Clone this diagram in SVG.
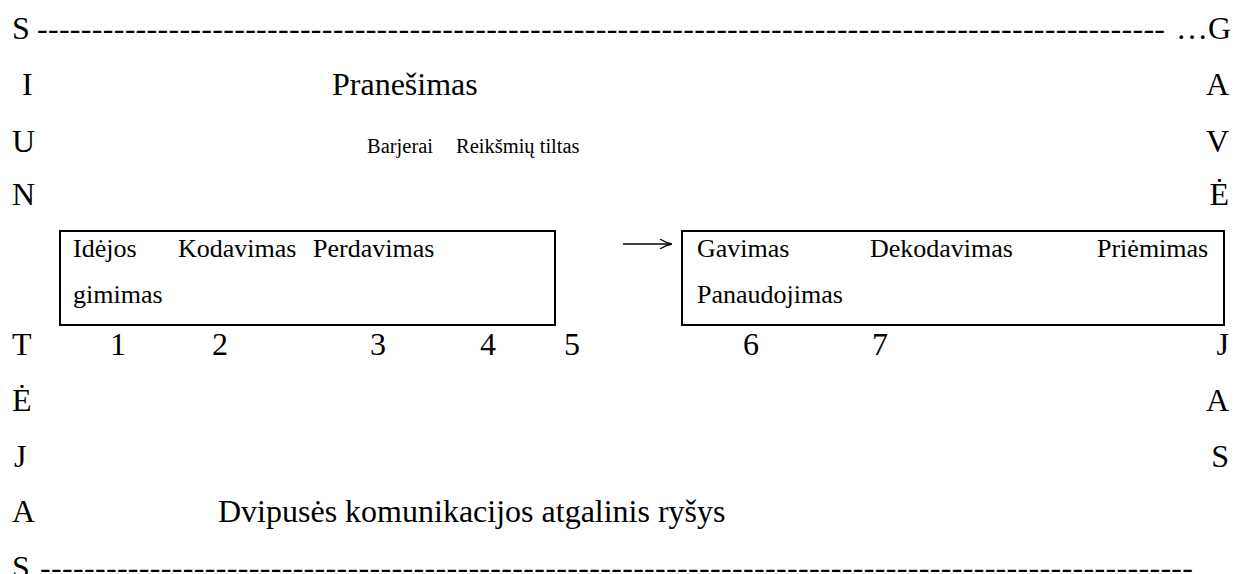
<svg xmlns="http://www.w3.org/2000/svg" width="1234" height="574" viewBox="0 0 1234 574">
<defs>
<marker id="ah" viewBox="0 0 12 10" refX="11" refY="5" markerWidth="12" markerHeight="10" markerUnits="userSpaceOnUse" orient="auto">
<path d="M0,0 Q6,4 12,5 Q6,6 0,10" fill="none" stroke="#000" stroke-width="1.3"/>
</marker>
</defs>
<style>
.side{font-size:32px}
.small{font-size:20.5px}
.box{font-size:26px}
.frame{fill:none;stroke:#000;stroke-width:2}
</style>
<rect width="1234" height="574" fill="#fff"/>
<g id="sender-label">
<text font-family="'Liberation Serif'" class="side" x="12" y="39">S</text>
<text font-family="'Liberation Serif'" class="side" x="22" y="95">I</text>
<text font-family="'Liberation Serif'" class="side" x="12" y="152">U</text>
<text font-family="'Liberation Serif'" class="side" x="12" y="205">N</text>
<text font-family="'Liberation Serif'" class="side" x="12" y="355">T</text>
<text font-family="'Liberation Serif'" class="side" x="12" y="411">Ė</text>
<text font-family="'Liberation Serif'" class="side" x="14" y="467">J</text>
<text font-family="'Liberation Serif'" class="side" x="12" y="522">A</text>
<text font-family="'Liberation Serif'" class="side" x="12" y="578">S</text>
</g>
<g id="receiver-label">
<text font-family="'Liberation Serif'" class="side" x="1176" y="39">…G</text>
<text font-family="'Liberation Serif'" class="side" x="1229" y="95" text-anchor="end">A</text>
<text font-family="'Liberation Serif'" class="side" x="1229" y="152" text-anchor="end">V</text>
<text font-family="'Liberation Serif'" class="side" x="1229" y="205" text-anchor="end">Ė</text>
<text font-family="'Liberation Serif'" class="side" x="1229" y="355" text-anchor="end">J</text>
<text font-family="'Liberation Serif'" class="side" x="1229" y="411" text-anchor="end">A</text>
<text font-family="'Liberation Serif'" class="side" x="1229" y="467" text-anchor="end">S</text>
</g>
<g id="top-line">
<text font-family="'Liberation Serif'" class="side" x="37" y="39" textLength="1128" lengthAdjust="spacing">-------------------------------------------------------------------------------------------------------</text>
</g>
<g id="message">
<text font-family="'Liberation Serif'" class="side" x="332" y="95">Pranešimas</text>
<text font-family="'Liberation Serif'" class="small" x="367" y="153">Barjerai</text>
<text font-family="'Liberation Serif'" class="small" x="456" y="153">Reikšmių tiltas</text>
</g>
<g id="sender-box">
<rect class="frame" x="60" y="231" width="495" height="94"/>
<text font-family="'Liberation Serif'" class="box" x="73" y="257">Idėjos</text>
<text font-family="'Liberation Serif'" class="box" x="178" y="257">Kodavimas</text>
<text font-family="'Liberation Serif'" class="box" x="313" y="257">Perdavimas</text>
<text font-family="'Liberation Serif'" class="box" x="73" y="303">gimimas</text>
</g>
<g id="receiver-box">
<rect class="frame" x="682" y="231" width="542" height="94"/>
<text font-family="'Liberation Serif'" class="box" x="697" y="257">Gavimas</text>
<text font-family="'Liberation Serif'" class="box" x="870" y="257">Dekodavimas</text>
<text font-family="'Liberation Serif'" class="box" x="1097" y="257">Priėmimas</text>
<text font-family="'Liberation Serif'" class="box" x="697" y="303">Panaudojimas</text>
</g>
<g id="steps">
<text font-family="'Liberation Serif'" class="side" x="110" y="355">1</text>
<text font-family="'Liberation Serif'" class="side" x="212" y="355">2</text>
<text font-family="'Liberation Serif'" class="side" x="370" y="355">3</text>
<text font-family="'Liberation Serif'" class="side" x="480" y="355">4</text>
<text font-family="'Liberation Serif'" class="side" x="564" y="355">5</text>
<text font-family="'Liberation Serif'" class="side" x="743" y="355">6</text>
<text font-family="'Liberation Serif'" class="side" x="872" y="355">7</text>
</g>
<g id="feedback">
<text font-family="'Liberation Serif'" class="side" x="218" y="522">Dvipusės komunikacijos atgalinis ryšys</text>
<text font-family="'Liberation Serif'" class="side" x="40" y="578" textLength="1153" lengthAdjust="spacing">---------------------------------------------------------------------------------------------------------</text>
</g>
<g id="connectors">
<line x1="623" y1="244" x2="671" y2="244" stroke="#000" stroke-width="1.6" marker-end="url(#ah)"/>
</g>
</svg>
